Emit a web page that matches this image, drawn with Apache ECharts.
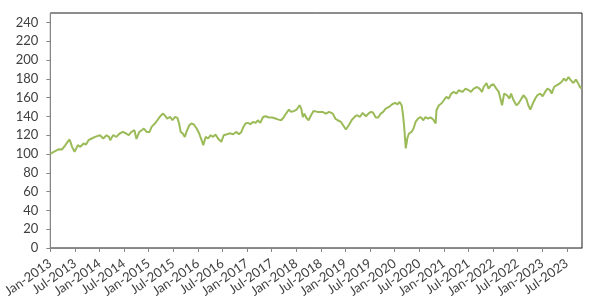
<!DOCTYPE html>
<html>
<head>
<meta charset="utf-8">
<script src="https://cdn.jsdelivr.net/npm/echarts@6/dist/echarts.min.js"></script>
<style>html,body{margin:0;padding:0;background:#fff}#c{width:596px;height:304px}</style>
</head>
<body>
<div id="c"></div>
<script>
// Months since Jan-2013
var months = [0,0.8,2.0,2.8,3.6,4.2,4.7,5.3,5.9,6.7,7.3,8.1,8.7,9.3,10.1,10.9,11.3,12.1,12.9,13.7,14.3,14.6,15.3,16.1,16.9,17.7,18.5,19.1,19.8,20.5,21.0,21.7,22.3,22.8,23.5,24.2,24.7,25.5,26.1,26.7,27.4,27.9,28.5,29.2,29.8,30.4,31.0,31.4,31.8,32.3,32.8,33.2,33.9,34.4,35.0,35.7,36.3,36.9,37.3,37.9,38.5,39.1,39.7,40.3,40.9,41.7,42.3,42.9,43.7,44.6,45.4,46.0,46.6,47.1,47.6,48.2,48.8,49.4,50.1,50.6,51.2,51.9,52.5,53.3,54.1,54.9,55.7,56.3,56.9,57.5,58.2,58.7,59.5,60.1,60.8,61.2,61.6,62.0,62.4,63.0,63.6,64.2,64.6,65.2,65.6,66.4,67.2,68.0,68.9,69.5,70.1,70.9,71.7,72.1,72.8,73.6,74.4,74.9,75.5,76.2,77.0,77.6,78.2,78.7,79.4,80.0,80.6,81.2,81.8,82.6,83.4,84.1,84.7,85.2,85.7,86.0,86.3,86.7,87.1,87.5,88.1,88.6,89.1,89.7,90.3,91.0,91.5,92.1,92.8,93.4,94.0,94.2,94.8,95.4,96.0,96.6,97.2,97.8,98.4,99.1,99.6,100.5,101.3,102.1,102.6,103.3,104.1,104.7,105.3,105.7,106.4,106.9,107.5,108.1,108.8,109.4,109.8,110.2,110.7,111.4,112.0,112.4,113.0,113.7,114.2,114.8,115.4,116.1,116.6,117.1,117.7,118.3,118.8,119.5,120.1,120.7,121.3,121.9,122.3,122.9,123.5,124.2,124.7,125.3,125.8,126.4,127.0,127.6,128.2,128.8,129.2,129.6];
var values = [100,102.3,105,104.8,109,112.9,115.4,107.6,102.3,109.4,107.6,111.2,110.1,114.7,116.5,118.2,116.5,120,116.5,120,118.2,114.7,120,118.2,121.8,123.5,121.8,120,123.5,125.3,116,123.5,125.3,127.1,123.5,123.5,128.8,132.4,135.9,139.4,143,141.2,137.7,139.4,135.9,139.4,138.4,132.4,123.5,121.8,118.2,123.5,130.6,132.4,131.4,127.1,121.8,114.7,109.4,118.2,116.5,120,118.2,120.7,116.5,112.9,120,120.7,122,121,123.5,121,123.5,128.8,132.4,133.1,131.7,134.1,133.1,135.9,133.1,139.4,140.2,138.8,138.8,137.7,136.6,135.9,138.8,143,147.3,144.8,145.8,147.3,151.9,148.3,139.4,143,138.8,135.9,141.2,145.8,147.3,144.8,143,144.8,143,144.8,143,137.7,135.9,134.1,128.8,126.1,130.6,136.6,140.2,141.2,139.4,143.7,140.2,143,144.8,144.1,138.8,138.8,143,144.8,148.3,150.1,152.9,154.3,152.9,155.4,151.9,143,130,105.9,117,121.8,123.5,127.1,134.1,137.7,139.4,135.9,139.4,137.7,138.8,136.6,132.4,146.5,151.9,153.7,157.2,160.7,159,164.3,166,164.3,167.8,166,169.6,167.8,166,169.6,171.3,169.6,166,171.3,175.5,169.6,173.1,174.2,169.6,166,167.8,151.9,164.3,162.5,159,164.3,157.2,151.9,153.7,157.9,162.5,159,151.9,147.3,153.7,159,162.5,164.3,161.4,166,169.6,167.8,164.3,171.3,173.1,174.9,176.6,180.2,177.7,181.9,178.4,175.5,179.1,174.9,171.3,169.6];
var xTickLabels = ["Jan-2013","Jul-2013","Jan-2014","Jul-2014","Jan-2015","Jul-2015","Jan-2016","Jul-2016","Jan-2017","Jul-2017","Jan-2018","Jul-2018","Jan-2019","Jul-2019","Jan-2020","Jul-2020","Jan-2021","Jul-2021","Jan-2022","Jul-2022","Jan-2023","Jul-2023"];
var yTicks = [0,20,40,60,80,100,120,140,160,180,200,220,240];

var xTickVals = xTickLabels.map(function(_, i){ return i*6; });
var pts = months.map(function(m, i){ return [m, values[i]]; });

var chart = echarts.init(document.getElementById('c'), null, {renderer:'canvas'});
chart.setOption({
  animation: false,
  grid: {left: 48, right: 14, top: 13, bottom: 56, show: true, borderColor: '#1a1a1a', borderWidth: 1, backgroundColor: 'transparent'},
  xAxis: {
    type: 'value', min: 0, max: 129.7,
    splitLine: {show: false},
    axisLine: {show: true, lineStyle: {color: '#868686', width: 1}},
    axisTick: {show: true, length: 4, inside: false, customValues: xTickVals, lineStyle: {color: '#868686'}},
    axisLabel: {
      customValues: xTickVals, rotate: 35, margin: 14,
      fontFamily: 'Lato', fontSize: 13, color: '#404040',
      formatter: function(v){ return xTickLabels[Math.round(v/6)] || ''; }
    }
  },
  yAxis: {
    type: 'value', min: 0, max: 250,
    splitLine: {show: false},
    axisLine: {show: true, lineStyle: {color: '#868686', width: 1}},
    axisTick: {show: true, length: 4, customValues: yTicks, lineStyle: {color: '#868686'}},
    axisLabel: {customValues: yTicks, margin: 12, fontFamily: 'Lato', fontSize: 13, color: '#404040'}
  },
  series: [{
    type: 'line', data: pts, showSymbol: false, smooth: false,
    lineStyle: {color: '#9BBB59', width: 2}, itemStyle: {color: '#9BBB59'}
  }]
});
</script>
</body>
</html>
